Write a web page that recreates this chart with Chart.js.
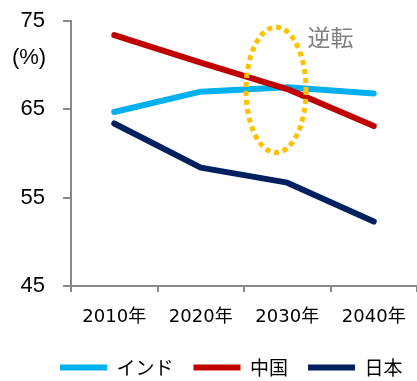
<!DOCTYPE html>
<html><head><meta charset="utf-8">
<script src="https://cdn.jsdelivr.net/npm/chart.js@4"></script>
<style>html,body{margin:0;padding:0;background:#fff}#wrap{width:417px;height:381px}</style>
</head><body><div id="wrap"><canvas id="c"></canvas></div>
<script>
const categories = ['2010年','2020年','2030年','2040年'];
const india = [64.7, 67.0, 67.5, 66.8];
const china = [73.4, 70.3, 67.3, 63.1];
const japan = [63.4, 58.4, 56.7, 52.3];
const seriesNames = ['インド','中国','日本'];
const yTicks = [45, 55, 65, 75];
const unitLabel = '(%)';
const noteLabel = '逆転';
// ellipse annotation in data space: [category index, value], radii
const ellipseCenter = [1.87, 67.2];
const ellipseRadiusValue = 7.1;

const CJK = '"Noto Sans CJK JP"';
const annot = {
  id: 'annot',
  afterLayout(chart) {
    const lg = chart.legend;
    const dx = 60 - (lg.left + lg.options.labels.padding);
    lg.left += dx; lg.right += dx + 40;
    const h = lg.bottom - lg.top;
    lg.top = 367 - 9 - lg.options.labels.padding; lg.bottom = lg.top + h;
  },
  afterDatasetsDraw(chart) {
    const {ctx, scales: {x, y}} = chart;
    const cx = x.getPixelForValue(ellipseCenter[0]);
    const cy = y.getPixelForValue(ellipseCenter[1]);
    const ry = y.getPixelForValue(ellipseCenter[1] - ellipseRadiusValue) - cy;
    const rx = 30;
    ctx.save();
    ctx.strokeStyle = '#FFC000';
    ctx.lineWidth = 5;
    ctx.setLineDash([5, 4]);
    ctx.beginPath();
    ctx.ellipse(cx, cy, rx, ry, 0, 0, Math.PI * 2);
    ctx.stroke();
    ctx.restore();
  },
  afterDraw(chart) {
    const {ctx, scales: {x, y}} = chart;
    ctx.save();
    ctx.fillStyle = '#000';
    ctx.font = '22px "Liberation Sans", ' + CJK;
    ctx.textAlign = 'center';
    ctx.textBaseline = 'middle';
    ctx.fillText(unitLabel, 29, y.getPixelForValue(70.8));
    ctx.fillStyle = '#7f7f7f';
    ctx.font = '23px ' + CJK;
    ctx.fillText(noteLabel, x.getPixelForValue(2.5), y.getPixelForValue(73.2));
    ctx.restore();
  }
};

const mk = (label, data, color, order) => ({
  label, data, borderColor: color, backgroundColor: color, borderWidth: 6,
  pointRadius: 0, pointHoverRadius: 0, tension: 0, order,
  borderCapStyle: 'round', borderJoinStyle: 'round', fill: false
});

new Chart(document.getElementById('c'), {
  type: 'line',
  data: {
    labels: categories,
    datasets: [
      mk(seriesNames[0], india, '#00B0F0', 2),
      mk(seriesNames[1], china, '#C00000', 1),
      mk(seriesNames[2], japan, '#002060', 3)
    ]
  },
  options: {
    responsive: true, maintainAspectRatio: false, animation: false,
    layout: { padding: { top: 21, left: 0, right: -6, bottom: -16 } },
    plugins: {
      tooltip: { enabled: false },
      legend: {
        position: 'bottom', align: 'start',
        labels: {
          usePointStyle: true, pointStyle: 'line', pointStyleWidth: 47, boxWidth: 47,
          padding: 20, color: '#000',
          font: { family: CJK, size: 19 },
          sort: (a, b) => a.datasetIndex - b.datasetIndex
        }
      }
    },
    scales: {
      x: {
        offset: true,
        grid: { offset: true, drawOnChartArea: false, drawTicks: true, tickLength: 6, color: '#898989', lineWidth: 2 },
        border: { display: true, color: '#898989', width: 2 },
        ticks: { color: '#000', padding: 15, maxRotation: 0, font: { family: '"DejaVu Sans", ' + CJK, size: 18 } },
        afterFit(s) { s.height = 62; s.paddingLeft = 0; s.paddingRight = 0; }
      },
      y: {
        min: 45, max: 75,
        afterBuildTicks(s) { s.ticks = yTicks.map(v => ({ value: v })); },
        grid: { drawOnChartArea: false, drawTicks: true, tickLength: 8, color: '#898989', lineWidth: 2 },
        border: { display: true, color: '#898989', width: 2 },
        ticks: { color: '#000', padding: 18, font: { family: '"Liberation Sans"', size: 22 } },
        afterFit(s) { s.width = 71; s.paddingTop = 0; s.paddingBottom = 0; }
      }
    }
  },
  plugins: [annot]
});
</script></body></html>
